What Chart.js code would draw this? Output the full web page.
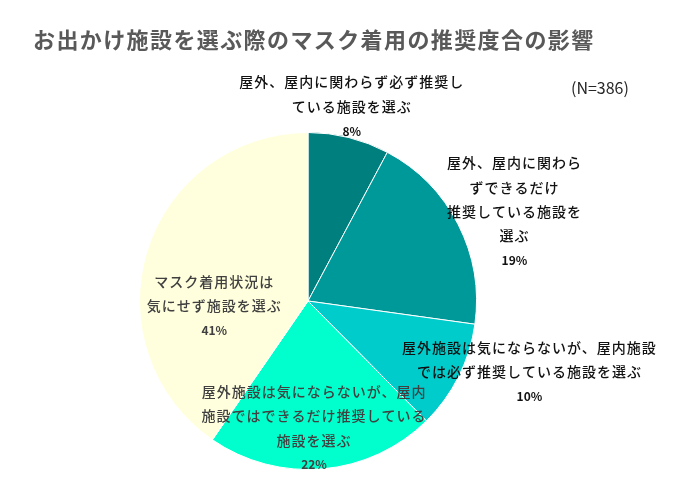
<!DOCTYPE html>
<html><head><meta charset="utf-8">
<script src="https://cdn.jsdelivr.net/npm/chart.js@4/dist/chart.umd.min.js"></script>
<style>html,body{margin:0;padding:0;background:#fff}#wrap{width:680px;height:489px;position:relative}</style>
</head><body><div id="wrap"><canvas id="c"></canvas></div>
<script>
const categories = [
  "屋外、屋内に関わらず必ず推奨している施設を選ぶ",
  "屋外、屋内に関わらずできるだけ推奨している施設を選ぶ",
  "屋外施設は気にならないが、屋内施設では必ず推奨している施設を選ぶ",
  "屋外施設は気にならないが、屋内施設ではできるだけ推奨している施設を選ぶ",
  "マスク着用状況は気にせず施設を選ぶ"
];
const values = [7.8, 19.4, 10.4, 22.0, 40.4];
const percentLabels = ["8%", "19%", "10%", "22%", "41%"];
const labelLines = [
  ["屋外、屋内に関わらず必ず推奨し", "ている施設を選ぶ"],
  ["屋外、屋内に関わら", "ずできるだけ", "推奨している施設を", "選ぶ"],
  ["屋外施設は気にならないが、屋内施設", "では必ず推奨している施設を選ぶ"],
  ["屋外施設は気にならないが、屋内", "施設ではできるだけ推奨している", "施設を選ぶ"],
  ["マスク着用状況は", "気にせず施設を選ぶ"]
];
const titleText = "お出かけ施設を選ぶ際のマスク着用の推奨度合の影響";
const noteText = "(N=386)";

const colors = ["#007f7f", "#009999", "#00cccc", "#00ffcc", "#ffffdd"];
const labelColors = ["#111111", "#111111", "#111111", "#404040", "#404040"];
// label block centre, in units of the pie radius from the pie centre
const labelPos = [[0.26,-1.154],[1.225,-0.530],[1.314,0.420],[0.036,0.754],[-0.556,0.030]];
const FONT = "'Noto Sans CJK JP','Noto Sans',sans-serif";

const textPlugin = {
  id: 'texts',
  afterDraw(chart) {
    const ctx = chart.ctx;
    ctx.save();
    ctx.textBaseline = 'middle';
    // title
    ctx.fillStyle = '#595959';
    ctx.font = "bold 22px " + FONT;
    ctx.letterSpacing = '1.4px';
    ctx.textAlign = 'left';
    ctx.fillText(titleText, 33, 40);
    // N
    ctx.letterSpacing = '0px';
    ctx.fillStyle = '#262626';
    ctx.font = "16px " + FONT;
    ctx.fillText(noteText, 571, 88);
    // slice labels
    const meta = chart.getDatasetMeta(0);
    const lh = 24.4;
    meta.data.forEach((arc, i) => {
      const r = arc.outerRadius;
      const cx = arc.x + labelPos[i][0] * r;
      const cy = arc.y + labelPos[i][1] * r;
      const lines = labelLines[i];
      const n = lines.length + 1;
      let y = cy - (n - 1) * lh / 2;
      ctx.fillStyle = labelColors[i];
      ctx.textAlign = 'center';
      ctx.letterSpacing = '1px';
      ctx.font = "500 14px " + FONT;
      lines.forEach(t => { ctx.fillText(t, cx, y); y += lh; });
      ctx.letterSpacing = '0px';
      ctx.font = "bold 12px " + FONT;
      ctx.fillText(percentLabels[i], cx, y);
    });
    ctx.restore();
  }
};

new Chart(document.getElementById('c'), {
  type: 'pie',
  data: {
    labels: categories,
    datasets: [{
      data: values,
      backgroundColor: colors,
      borderColor: '#ffffff',
      borderWidth: 1
    }]
  },
  options: {
    responsive: true,
    maintainAspectRatio: false,
    animation: false,
    layout: { padding: { left: 139, right: 203, top: 132, bottom: 19 } },
    plugins: { legend: { display: false }, tooltip: { enabled: false }, title: { display: false } }
  },
  plugins: [textPlugin]
});
</script>
</body></html>
